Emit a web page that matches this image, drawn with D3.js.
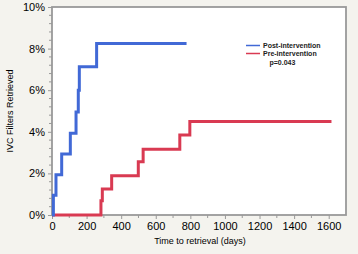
<!DOCTYPE html>
<html><head><meta charset="utf-8">
<script src="https://cdn.jsdelivr.net/npm/d3@7"></script>
<style>
html,body{margin:0;padding:0;background:#f4f3ee;}
svg{display:block;font-family:"Liberation Sans",Arial,Helvetica,sans-serif;}
</style></head>
<body>
<script>
const postDays = [0, 8, 23, 56, 106, 139, 152, 158, 258, 778];
const postPct  = [0, 0.95, 1.93, 2.93, 3.93, 4.95, 6.0, 7.13, 8.25, 8.25];
const preDays  = [0, 283, 291, 345, 499, 527, 739, 797, 1616];
const prePct   = [0, 0.69, 1.25, 1.89, 2.56, 3.16, 3.85, 4.49, 4.49];
const xTicks = [0, 200, 400, 600, 800, 1000, 1200, 1400, 1600];
const yTicks = [0, 2, 4, 6, 8, 10];
const seriesNames = ["Post-intervention", "Pre-intervention"];
const pText = "p=0.043";
const xTitle = "Time to retrieval (days)";
const yTitle = "IVC Filters Retrieved";

const W = 358, H = 254;
const L = 52, R = 346, T = 7, B = 215;
const blue = "#4169d6", red = "#d93a52";

const svg = d3.select("body").append("svg").attr("width", W).attr("height", H);
const x = d3.scaleLinear().domain([0, 1700]).range([L, R]);
const y = d3.scaleLinear().domain([0, 10]).range([B, T]);

svg.append("rect").attr("x", L).attr("y", T).attr("width", R - L).attr("height", B - T)
  .attr("fill", "#fff").attr("stroke", "#999").attr("stroke-width", 1.8);

// minor ticks
const xMinor = d3.range(100, 1700, 200);
const gx = svg.append("g").attr("transform", `translate(0,${B})`);
gx.selectAll(".mn").data(xMinor).enter().append("line")
  .attr("x1", d => x(d)).attr("x2", d => x(d)).attr("y1", 0).attr("y2", 3)
  .attr("stroke", "#999").attr("stroke-width", 1);
const xAxis = d3.axisBottom(x).tickValues(xTicks).tickSize(4).tickPadding(3).tickFormat(d3.format("d"));
gx.call(xAxis);
gx.select(".domain").remove();
gx.selectAll(".tick line").attr("stroke", "#999");
gx.selectAll(".tick text").attr("font-size", "11px").attr("fill", "#000")
  .attr("font-family", "'Liberation Sans',Arial,sans-serif");

const yMinor = d3.range(0, 10.01, 0.4).filter(v => Math.abs(v / 2 - Math.round(v / 2)) > 0.01);
const gy = svg.append("g").attr("transform", `translate(${L},0)`);
gy.selectAll(".mn").data(yMinor).enter().append("line")
  .attr("x1", -3).attr("x2", 0).attr("y1", d => y(d)).attr("y2", d => y(d))
  .attr("stroke", "#999").attr("stroke-width", 1);
const yAxis = d3.axisLeft(y).tickValues(yTicks).tickSize(4).tickPadding(3).tickFormat(d => d + "%");
gy.call(yAxis);
gy.select(".domain").remove();
gy.selectAll(".tick line").attr("stroke", "#999");
gy.selectAll(".tick text").attr("font-size", "11px").attr("fill", "#000")
  .attr("font-family", "'Liberation Sans',Arial,sans-serif");

const line = d3.line().x(d => x(d[0])).y(d => y(d[1])).curve(d3.curveStepAfter);
const preData = preDays.map((d, i) => [d, prePct[i]]);
const postData = postDays.map((d, i) => [d, postPct[i]]);
svg.append("path").attr("d", line(preData)).attr("fill", "none").attr("stroke", red).attr("stroke-width", 3);
svg.append("path").attr("d", line(postData)).attr("fill", "none").attr("stroke", blue).attr("stroke-width", 3);

// legend
const lg = svg.append("g");
[[blue, 45.5], [red, 53.5]].forEach((c, i) => {
  lg.append("line").attr("x1", 246).attr("x2", 260).attr("y1", c[1]).attr("y2", c[1])
    .attr("stroke", c[0]).attr("stroke-width", 1.5);
  lg.append("text").attr("x", 263).attr("y", c[1] + 2.5).text(seriesNames[i])
    .attr("font-size", "7px").attr("font-weight", "bold").attr("fill", "#222");
});
lg.append("text").attr("x", 269.5).attr("y", 64.5).text(pText)
  .attr("font-size", "7px").attr("font-weight", "bold").attr("fill", "#222");

svg.append("text").attr("x", (L + R) / 2 + 1).attr("y", 244).attr("text-anchor", "middle")
  .attr("font-size", "9px").attr("fill", "#000").text(xTitle);
svg.append("text").attr("transform", `translate(13,${(T + B) / 2}) rotate(-90)`)
  .attr("text-anchor", "middle").attr("font-size", "9px").attr("fill", "#000").text(yTitle);
</script>
</body></html>
